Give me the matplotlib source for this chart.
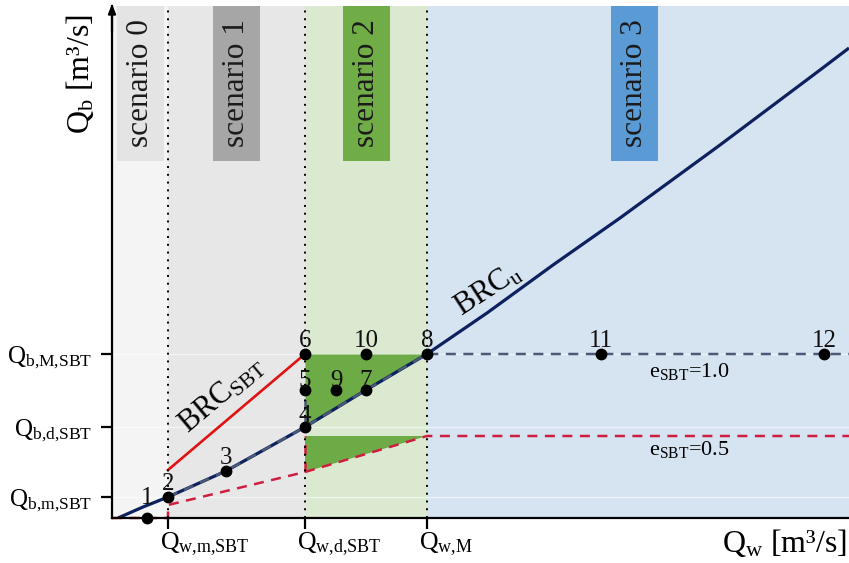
import numpy as np
import matplotlib
matplotlib.use("Agg")
import matplotlib.pyplot as plt
import matplotlib.transforms as mtransforms
from matplotlib.patches import Rectangle

plt.rcParams["font.family"] = ["Liberation Serif", "DejaVu Serif"]
plt.rcParams["mathtext.fontset"] = "custom"
plt.rcParams["mathtext.rm"] = "Liberation Serif"
plt.rcParams["mathtext.it"] = "Liberation Serif:italic"
plt.rcParams["mathtext.bf"] = "Liberation Serif:bold"

# ---- data (schematic units) ----
# unlimited bedload rating curve BRC_u
curve_qw = [0.06, 0.31, 0.56, 1.14, 1.93, 2.54, 3.15, 3.75, 4.41, 5.08, 6.08, 7.08, 7.37]
curve_qb = [0.00, 0.11, 0.21, 0.47, 0.91, 1.28, 1.64, 2.05, 2.53, 3.00, 3.73, 4.48, 4.70]

# characteristic discharges
qw_ticks = [0.56, 1.93, 3.15]
qw_tick_labels = [r"$\mathrm{Q}_{\mathrm{w{,}m{,}SBT}}$", r"$\mathrm{Q}_{\mathrm{w{,}d{,}SBT}}$",
                  r"$\mathrm{Q}_{\mathrm{w{,}M}}$"]
qb_ticks = [0.21, 0.91, 1.64]
qb_tick_labels = [r"$\mathrm{Q}_{\mathrm{b{,}m{,}SBT}}$", r"$\mathrm{Q}_{\mathrm{b{,}d{,}SBT}}$",
                  r"$\mathrm{Q}_{\mathrm{b{,}M{,}SBT}}$"]

# bypass tunnel rating curve BRC_SBT
brc_sbt_qw = [0.56, 1.93]
brc_sbt_qb = [0.48, 1.64]

# e_SBT = 0.5 line
e05_qw = [0.0, 0.56, 0.56, 1.93, 3.15, 7.37]
e05_qb = [0.0, 0.0, 0.13, 0.46, 0.82, 0.82]
e05_step_qw = [1.93, 1.93]
e05_step_qb = [0.46, 0.82]

# e_SBT = 1.0 line
e10_qw = [0.56, 1.14, 1.93, 2.54, 3.15, 7.37]
e10_qb = [0.21, 0.47, 0.91, 1.28, 1.64, 1.64]
e10_step_qw = [1.93, 1.93]
e10_step_qb = [0.91, 1.20]

# numbered points
point_ids = ["1", "2", "3", "4", "5", "6", "7", "8", "9", "10", "11", "12"]
point_qw = [0.35, 0.56, 1.14, 1.93, 1.93, 1.93, 2.54, 3.15, 2.24, 2.54, 4.89, 7.12]
point_qb = [0.00, 0.21, 0.47, 0.91, 1.28, 1.64, 1.28, 1.64, 1.28, 1.64, 1.64, 1.64]

scenarios = ["scenario 0", "scenario 1", "scenario 2", "scenario 3"]
region_colors = ["#f4f4f4", "#e7e7e7", "#dbe9d0", "#d6e4f2"]
box_colors = ["#e4e4e4", "#a6a6a6", "#70ad47", "#5b9bd5"]

QW_MAX, QB_MAX = 7.37, 5.12

fig = plt.figure(figsize=(8.49, 5.63), dpi=100)
ax = fig.add_axes([112 / 849, 45 / 563, 737 / 849, 512 / 563])
ax.set_xlim(0, QW_MAX)
ax.set_ylim(0, QB_MAX)

# scenario bands with title boxes
edges = [0.0] + qw_ticks + [QW_MAX]
for i, name in enumerate(scenarios):
    x0, x1 = edges[i], edges[i + 1]
    ax.axvspan(x0, x1, color=region_colors[i], lw=0, zorder=0)
    cx = 0.5 * (x0 + x1) - (0.035 if i == 3 else 0.0)
    ax.add_patch(Rectangle((cx - 0.235, 3.57), 0.47, QB_MAX - 3.57,
                           facecolor=box_colors[i], edgecolor="none", zorder=1))
    ax.text(cx, 4.35, name, rotation=90, ha="center", va="center",
            fontsize=22.5, color="#1a1a1a", zorder=2)

# faint grid lines at the characteristic bedload levels
for y in qb_ticks:
    ax.axhline(y, color="white", alpha=0.55, lw=1.0, zorder=1)

green = "#6cab45"
# upper triangle between BRC_u and Q_b,M,SBT
cq = np.array(curve_qw)
cb = np.array(curve_qb)
m = (cq >= qw_ticks[1]) & (cq <= qw_ticks[2])
ax.fill_between(cq[m], cb[m], qb_ticks[2], color=green, lw=0, zorder=2)
# lower triangle under the e_SBT=0.5 line
ax.fill([e05_qw[3], e05_qw[4], e05_qw[3]], [e05_qb[4], e05_qb[4], e05_qb[3]],
        color=green, lw=0, zorder=2)

navy = "#0c215e"
slate = "#4b5a76"
red_d = "#cf1d3f"
red_s = "#e01212"
dash = (0, (4, 3))

ax.plot(curve_qw, curve_qb, color=navy, lw=2.3, zorder=4, solid_capstyle="butt",
        solid_joinstyle="round")
ax.plot(e10_qw, e10_qb, color=slate, lw=1.8, ls=dash, zorder=5)
ax.plot(e10_step_qw, e10_step_qb, color=slate, lw=1.8, ls=dash, zorder=5)
ax.plot(e05_qw, e05_qb, color=red_d, lw=1.8, ls=dash, zorder=5, clip_on=False)
ax.plot(e05_step_qw, e05_step_qb, color=red_d, lw=1.8, ls=dash, zorder=5)
ax.plot(brc_sbt_qw, brc_sbt_qb, color=red_s, lw=1.9, zorder=5)

for x in qw_ticks:
    ax.axvline(x, color="black", lw=1.4, ls=(0, (1, 3)), zorder=6)

ax.plot(point_qw, point_qb, "o", color="black", ms=7.5, zorder=8, clip_on=False)
label_offsets = {"1": 10.0, "4": 3.5, "5": 2.0, "7": 2.0, "9": 2.0}
for pid, x, y in zip(point_ids, point_qw, point_qb):
    ax.annotate(pid, (x, y), xytext=(0, label_offsets.get(pid, 5.0)),
                textcoords="offset points", ha="center", va="baseline",
                fontsize=18, color="#111111", zorder=9, annotation_clip=False)

ax.text(1.10, 1.23, r"BRC$_{\mathrm{SBT}}$", rotation=40, rotation_mode="anchor",
        ha="center", va="center", fontsize=22, zorder=9)
ax.text(3.76, 2.28, r"BRC$_{\mathrm{u}}$", rotation=33, rotation_mode="anchor",
        ha="center", va="center", fontsize=22, zorder=9)
ax.text(5.77, 1.46, r"e$_{\mathrm{SBT}}$=1.0", ha="center", va="center", fontsize=16, zorder=9)
ax.text(5.77, 0.68, r"e$_{\mathrm{SBT}}$=0.5", ha="center", va="center", fontsize=16, zorder=9)

# axes styling
for s in ("top", "right"):
    ax.spines[s].set_visible(False)
for s in ("left", "bottom"):
    ax.spines[s].set_linewidth(1.6)
    ax.spines[s].set_zorder(7)
ax.set_yticks(qb_ticks)
ax.set_yticklabels(qb_tick_labels, fontsize=18)
ax.set_xticks(qw_ticks)
ax.set_xticklabels([""] * len(qw_ticks))
ax.tick_params(axis="y", length=8, width=1.6, pad=6)
ax.tick_params(axis="x", length=8, width=1.6)

trans = ax.get_xaxis_transform() + mtransforms.ScaledTranslation(-0.08, -0.12, fig.dpi_scale_trans)
for x, lab in zip(qw_ticks, qw_tick_labels):
    ax.text(x, 0, lab, transform=trans, ha="left", va="top", fontsize=18.5, clip_on=False)

ax.annotate("", xy=(0, 1.004), xycoords="axes fraction", xytext=(0, 0.95),
            arrowprops=dict(arrowstyle="-|>,head_length=0.55,head_width=0.22",
                            color="black", lw=1.6, shrinkA=0, shrinkB=0),
            annotation_clip=False)

fig.text(80 / 849, 1 - 74 / 563, r"$\mathrm{Q}_{\mathrm{b}}$ [m³/s]", rotation=90,
         ha="center", va="center", fontsize=23)
fig.text(847 / 849, 1 - 543 / 563, r"$\mathrm{Q}_{\mathrm{w}}$ [m³/s]",
         ha="right", va="center", fontsize=23)

fig.savefig("out.png", dpi=100)
